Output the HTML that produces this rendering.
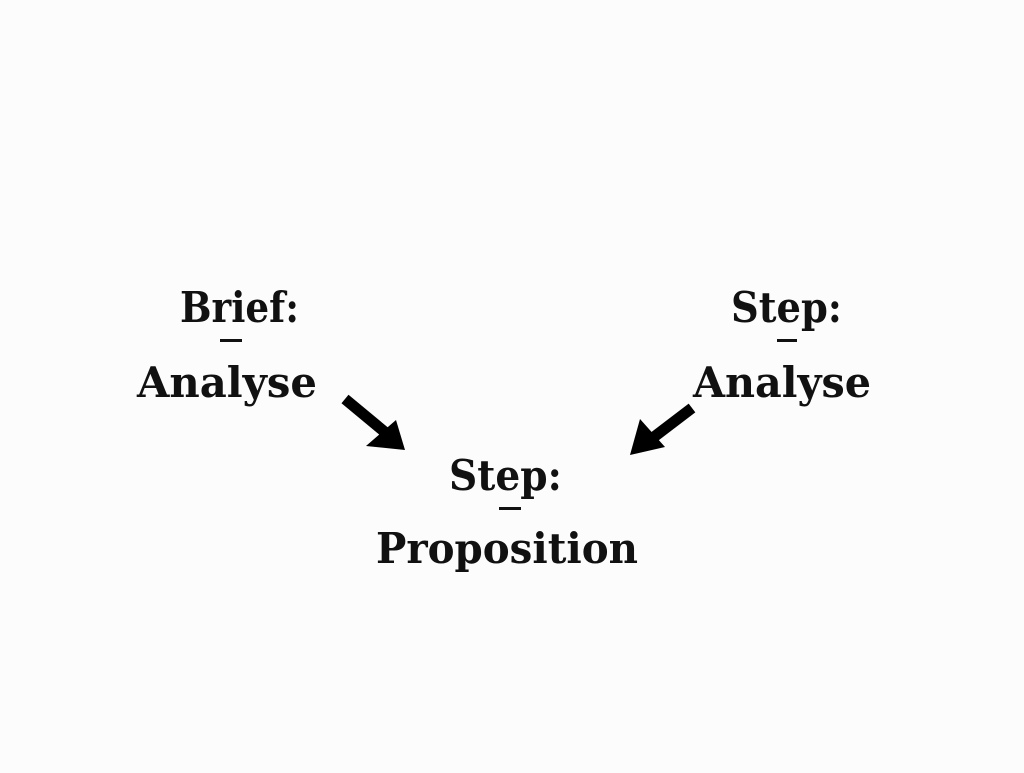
<!DOCTYPE html>
<html><head><style>body{margin:0;background:#fcfcfc}</style></head><body>
<svg width="1024" height="768" xmlns="http://www.w3.org/2000/svg">
<rect width="1024" height="768" fill="#fcfcfc"/>
<g font-family="DejaVu Serif, Liberation Serif, serif" font-weight="bold" font-size="42" fill="#111">
<text x="180" y="322" textLength="119" lengthAdjust="spacingAndGlyphs">Brief:</text>
<text x="137" y="397" textLength="180" lengthAdjust="spacingAndGlyphs">Analyse</text>
<text x="731" y="322" textLength="111" lengthAdjust="spacingAndGlyphs">Step:</text>
<text x="693" y="397" textLength="178" lengthAdjust="spacingAndGlyphs">Analyse</text>
<text x="449" y="490" textLength="113" lengthAdjust="spacingAndGlyphs">Step:</text>
<text x="376" y="563" textLength="262" lengthAdjust="spacingAndGlyphs">Proposition</text>
</g>
<g fill="#111">
<rect x="220" y="339" width="22" height="3"/>
<rect x="777" y="339" width="20" height="3"/>
<rect x="499" y="507" width="22" height="3"/>
</g>
<g stroke="#000" stroke-width="11" fill="none">
<line x1="345" y1="399" x2="386" y2="433"/>
<line x1="692" y1="408" x2="650" y2="440"/>
</g>
<polygon points="405,450 366,446 396,420" fill="#000"/>
<polygon points="630,455 640,419 665,447" fill="#000"/>
</svg>
</body></html>
